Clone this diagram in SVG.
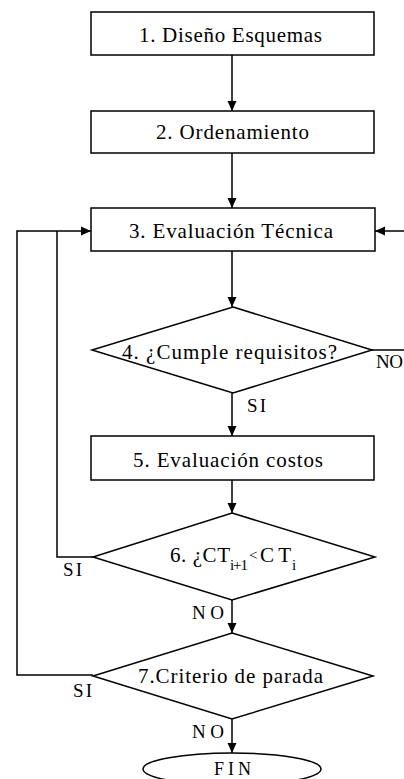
<svg xmlns="http://www.w3.org/2000/svg" width="404" height="779" viewBox="0 0 404 779">
<defs>
<style>
.n{fill:#fff;stroke:#000;stroke-width:1.5}
.c{fill:none;stroke:#000;stroke-width:1.5}
.t{font-family:"Liberation Serif","DejaVu Serif",serif;font-size:21px;fill:#000}
.l{font-size:19px}
.s{font-size:15px}
</style>
<marker id="a" viewBox="0 0 10 10" refX="10" refY="5" markerWidth="10" markerHeight="10" markerUnits="userSpaceOnUse" orient="auto">
<path d="M0,0.5 L10,5 L0,9.5 Z" fill="#000"/>
</marker>
</defs>
<rect width="404" height="779" fill="#fff"/>
<g id="connectors">
<line class="c" x1="232" y1="55" x2="232" y2="111" marker-end="url(#a)"/>
<line class="c" x1="232" y1="153" x2="232" y2="208" marker-end="url(#a)"/>
<line class="c" x1="232" y1="251" x2="232" y2="307" marker-end="url(#a)"/>
<line class="c" x1="232" y1="393" x2="232" y2="436" marker-end="url(#a)"/>
<line class="c" x1="232" y1="480" x2="232" y2="513" marker-end="url(#a)"/>
<line class="c" x1="232" y1="600" x2="232" y2="633" marker-end="url(#a)"/>
<line class="c" x1="232" y1="719" x2="232" y2="753" marker-end="url(#a)"/>
<line class="c" x1="404" y1="231" x2="375" y2="231" marker-end="url(#a)"/>
<line class="c" x1="372" y1="350" x2="404" y2="350"/>
<polyline class="c" points="93,557 57,557 57,231"/>
<polyline class="c" points="93,675 17,675 17,231 91,231" marker-end="url(#a)"/>
</g>
<g class="t" font-family="Liberation Serif, DejaVu Serif, serif">
<g id="n1"><rect class="n" x="91" y="12" width="283" height="43"/><text x="139" y="42" textLength="183">1. Diseño Esquemas</text></g>
<g id="n2"><rect class="n" x="91" y="111" width="283" height="42"/><text x="156" y="139" textLength="153">2. Ordenamiento</text></g>
<g id="n3"><rect class="n" x="91" y="208" width="284" height="43"/><text x="129" y="238" textLength="204">3. Evaluación Técnica</text></g>
<g id="n4"><polygon class="n" points="233,307 372,350 233,393 92,350"/><text x="122" y="359" textLength="215">4. ¿Cumple requisitos?</text></g>
<g id="n5"><rect class="n" x="91" y="436" width="283" height="44"/><text x="133" y="467" textLength="190">5. Evaluación costos</text></g>
<g id="n6"><polygon class="n" points="232,513 375,557 232,600 93,557"/><text y="562"><tspan x="170" textLength="60">6. ¿CT</tspan><tspan class="s" x="230" y="570" textLength="18">i+1</tspan><tspan class="s" x="249" y="560">&lt;</tspan><tspan x="260" y="562" textLength="31">CT</tspan><tspan class="s" x="292" y="570">i</tspan></text></g>
<g id="n7"><polygon class="n" points="232,633 373,676 232,719 93,676"/><text x="138" y="683" textLength="185">7.Criterio de parada</text></g>
<g id="n8"><ellipse class="n" cx="232" cy="769" rx="89" ry="16"/><text x="214" y="775" textLength="37" font-size="18">FIN</text></g>
<g id="labels">
<text class="l" x="247" y="412" textLength="19">SI</text>
<text class="l" x="376" y="368" textLength="27">NO</text>
<text class="l" x="63" y="576" textLength="19">SI</text>
<text class="l" x="192" y="619" textLength="32">NO</text>
<text class="l" x="73" y="697" textLength="19">SI</text>
<text class="l" x="192" y="738" textLength="32">NO</text>
</g>
</g>
</svg>
